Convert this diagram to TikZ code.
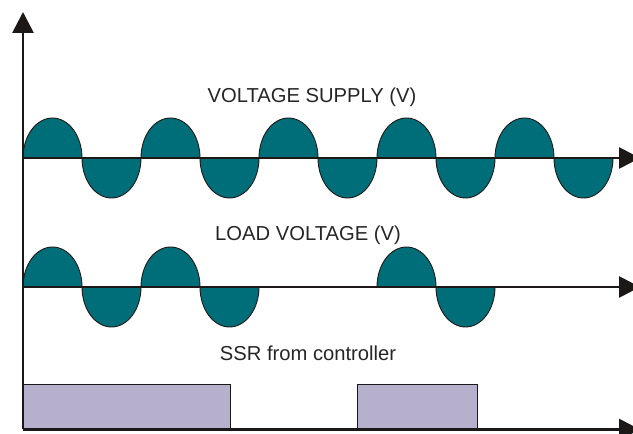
\documentclass[tikz,border=0pt]{standalone}
\usepackage{fontspec}
\setmainfont{Liberation Sans}
\usepackage{tikz}
\usetikzlibrary{arrows.meta,positioning}
\usepackage{xcolor}
\definecolor{waveteal}{RGB}{0,110,120}
\definecolor{ssrlilac}{RGB}{182,176,204}
\definecolor{axisdark}{RGB}{28,24,24}

\begin{document}
\begin{tikzpicture}[
    x=1pt, y=1pt,
    axis/.style={line width=2.8pt, axisdark, -{Triangle[length=21pt,width=21pt]}},
    lobe/.style={draw=axisdark, fill=waveteal, line width=0.9pt},
    pulse/.style={draw=axisdark, fill=ssrlilac, line width=0.9pt},
    label/.style={font=\fontsize{20.2}{23}\selectfont, text=black!85, anchor=base, inner sep=0pt}
]
    \useasboundingbox (0,0) rectangle (633,434);

    % Coordinates
    \coordinate (origin) at (23,4.5);
    \coordinate (ytop) at (23,422);
    \coordinate (supply0) at (23,276);
    \coordinate (supply1) at (640,276);
    \coordinate (load0) at (23,147);
    \coordinate (load1) at (640,147);
    \coordinate (ssr1) at (640,4.5);

    % Labels
    \node[label] (supply) at (312,331) {VOLTAGE SUPPLY (V)};
    \node[label] (load) at (308,193) {LOAD VOLTAGE (V)};
    \node[label] (ssr) at (308,73) {SSR from controller};

    % Supply voltage, ten half waves
    \foreach \k in {0,...,9} {
        \pgfmathsetmacro{\xs}{23+59*\k}
        \pgfmathsetmacro{\ea}{mod(\k,2)==0 ? 0 : 360}
        \draw[lobe] (\xs,276) arc[start angle=180, end angle=\ea, x radius=29.5, y radius=40] -- cycle;
    }

    % Load voltage, only while the SSR is on
    \foreach \k in {0,1,2,3,6,7} {
        \pgfmathsetmacro{\xs}{23+59*\k}
        \pgfmathsetmacro{\ea}{mod(\k,2)==0 ? 0 : 360}
        \draw[lobe] (\xs,147) arc[start angle=180, end angle=\ea, x radius=29.5, y radius=40] -- cycle;
    }

    % SSR pulses
    \draw[pulse] (23,4.5) rectangle (230,49.5);
    \draw[pulse] (357,4.5) rectangle (477,49.5);

    % Axes
    \draw[axis] (origin) -- (ytop);
    \draw[axis] (supply0) -- (supply1);
    \draw[axis] (load0) -- (load1);
    \draw[axis] (origin) -- (ssr1);
\end{tikzpicture}
\end{document}
